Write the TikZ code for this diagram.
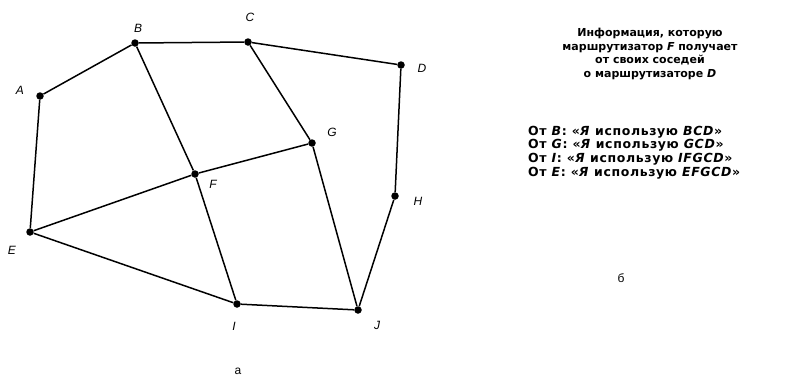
\documentclass[tikz,border=0pt]{standalone}
\usepackage{fontspec}
\setmainfont{Liberation Sans}
\newfontfamily\infofont{DejaVu Sans}
\usetikzlibrary{positioning}
\tikzset{
  router/.style={circle, fill=black, inner sep=0pt, minimum size=7.5pt},
  link/.style={line width=1.5pt},
  rname/.style={font=\fontsize{12}{12}\selectfont\itshape, inner sep=1pt},
  part/.style={font=\fontsize{12}{12}\selectfont, inner sep=1pt},
  info/.style={font=\infofont\bfseries\fontsize{11}{13.7}\selectfont, inner sep=0pt},
  heard/.style={info, font=\infofont\bfseries\addfontfeature{LetterSpace=5}\fontsize{12.5}{13.7}\selectfont},
}

\begin{document}
\begin{tikzpicture}[x=1pt,y=-1pt]
  \useasboundingbox (0,0) rectangle (799,378);
  % routers
  \node[router] (A) at (40,96) {};
  \node[router] (B) at (135,43) {};
  \node[router] (C) at (248,42) {};
  \node[router] (D) at (401,65) {};
  \node[router] (E) at (30,232) {};
  \node[router] (F) at (195,174) {};
  \node[router] (G) at (312,143) {};
  \node[router] (H) at (395,196) {};
  \node[router] (I) at (237,304) {};
  \node[router] (J) at (358,310) {};
  % router names
  \node[rname] (nA) at (20,90) {A};
  \node[rname] (nB) at (138,28) {B};
  \node[rname] (nC) at (250,17) {C};
  \node[rname] (nD) at (422,68) {D};
  \node[rname] (nE) at (12,250) {E};
  \node[rname] (nF) at (213,184) {F};
  \node[rname] (nG) at (332,132) {G};
  \node[rname] (nH) at (418,201) {H};
  \node[rname] (nI) at (234,326) {I};
  \node[rname] (nJ) at (377,325) {J};
  % links
  \draw[link] (A) -- (B);
  \draw[link] (B) -- (C);
  \draw[link] (C) -- (D);
  \draw[link] (A) -- (E);
  \draw[link] (B) -- (F);
  \draw[link] (C) -- (G);
  \draw[link] (D) -- (H);
  \draw[link] (E) -- (F);
  \draw[link] (F) -- (G);
  \draw[link] (E) -- (I);
  \draw[link] (F) -- (I);
  \draw[link] (G) -- (J);
  \draw[link] (H) -- (J);
  \draw[link] (I) -- (J);
  % right part
  \node[info,align=center] (head) at (650,54) {Информация, которую\\маршрутизатор \textit{F} получает\\от своих соседей\\о маршрутизаторе \textit{D}};
  \node[heard,align=left,anchor=west] (said) at (528,152.5) {От \textit{B}: «\textit{Я} использую \textit{BCD}»\\От \textit{G}: «\textit{Я} использую \textit{GCD}»\\От \textit{I}: «\textit{Я} использую \textit{IFGCD}»\\От \textit{E}: «\textit{Я} использую \textit{EFGCD}»};
  \node[part] (pa) at (238,371) {а};
  \node[part] (pb) at (621,278) {б};
\end{tikzpicture}
\end{document}
